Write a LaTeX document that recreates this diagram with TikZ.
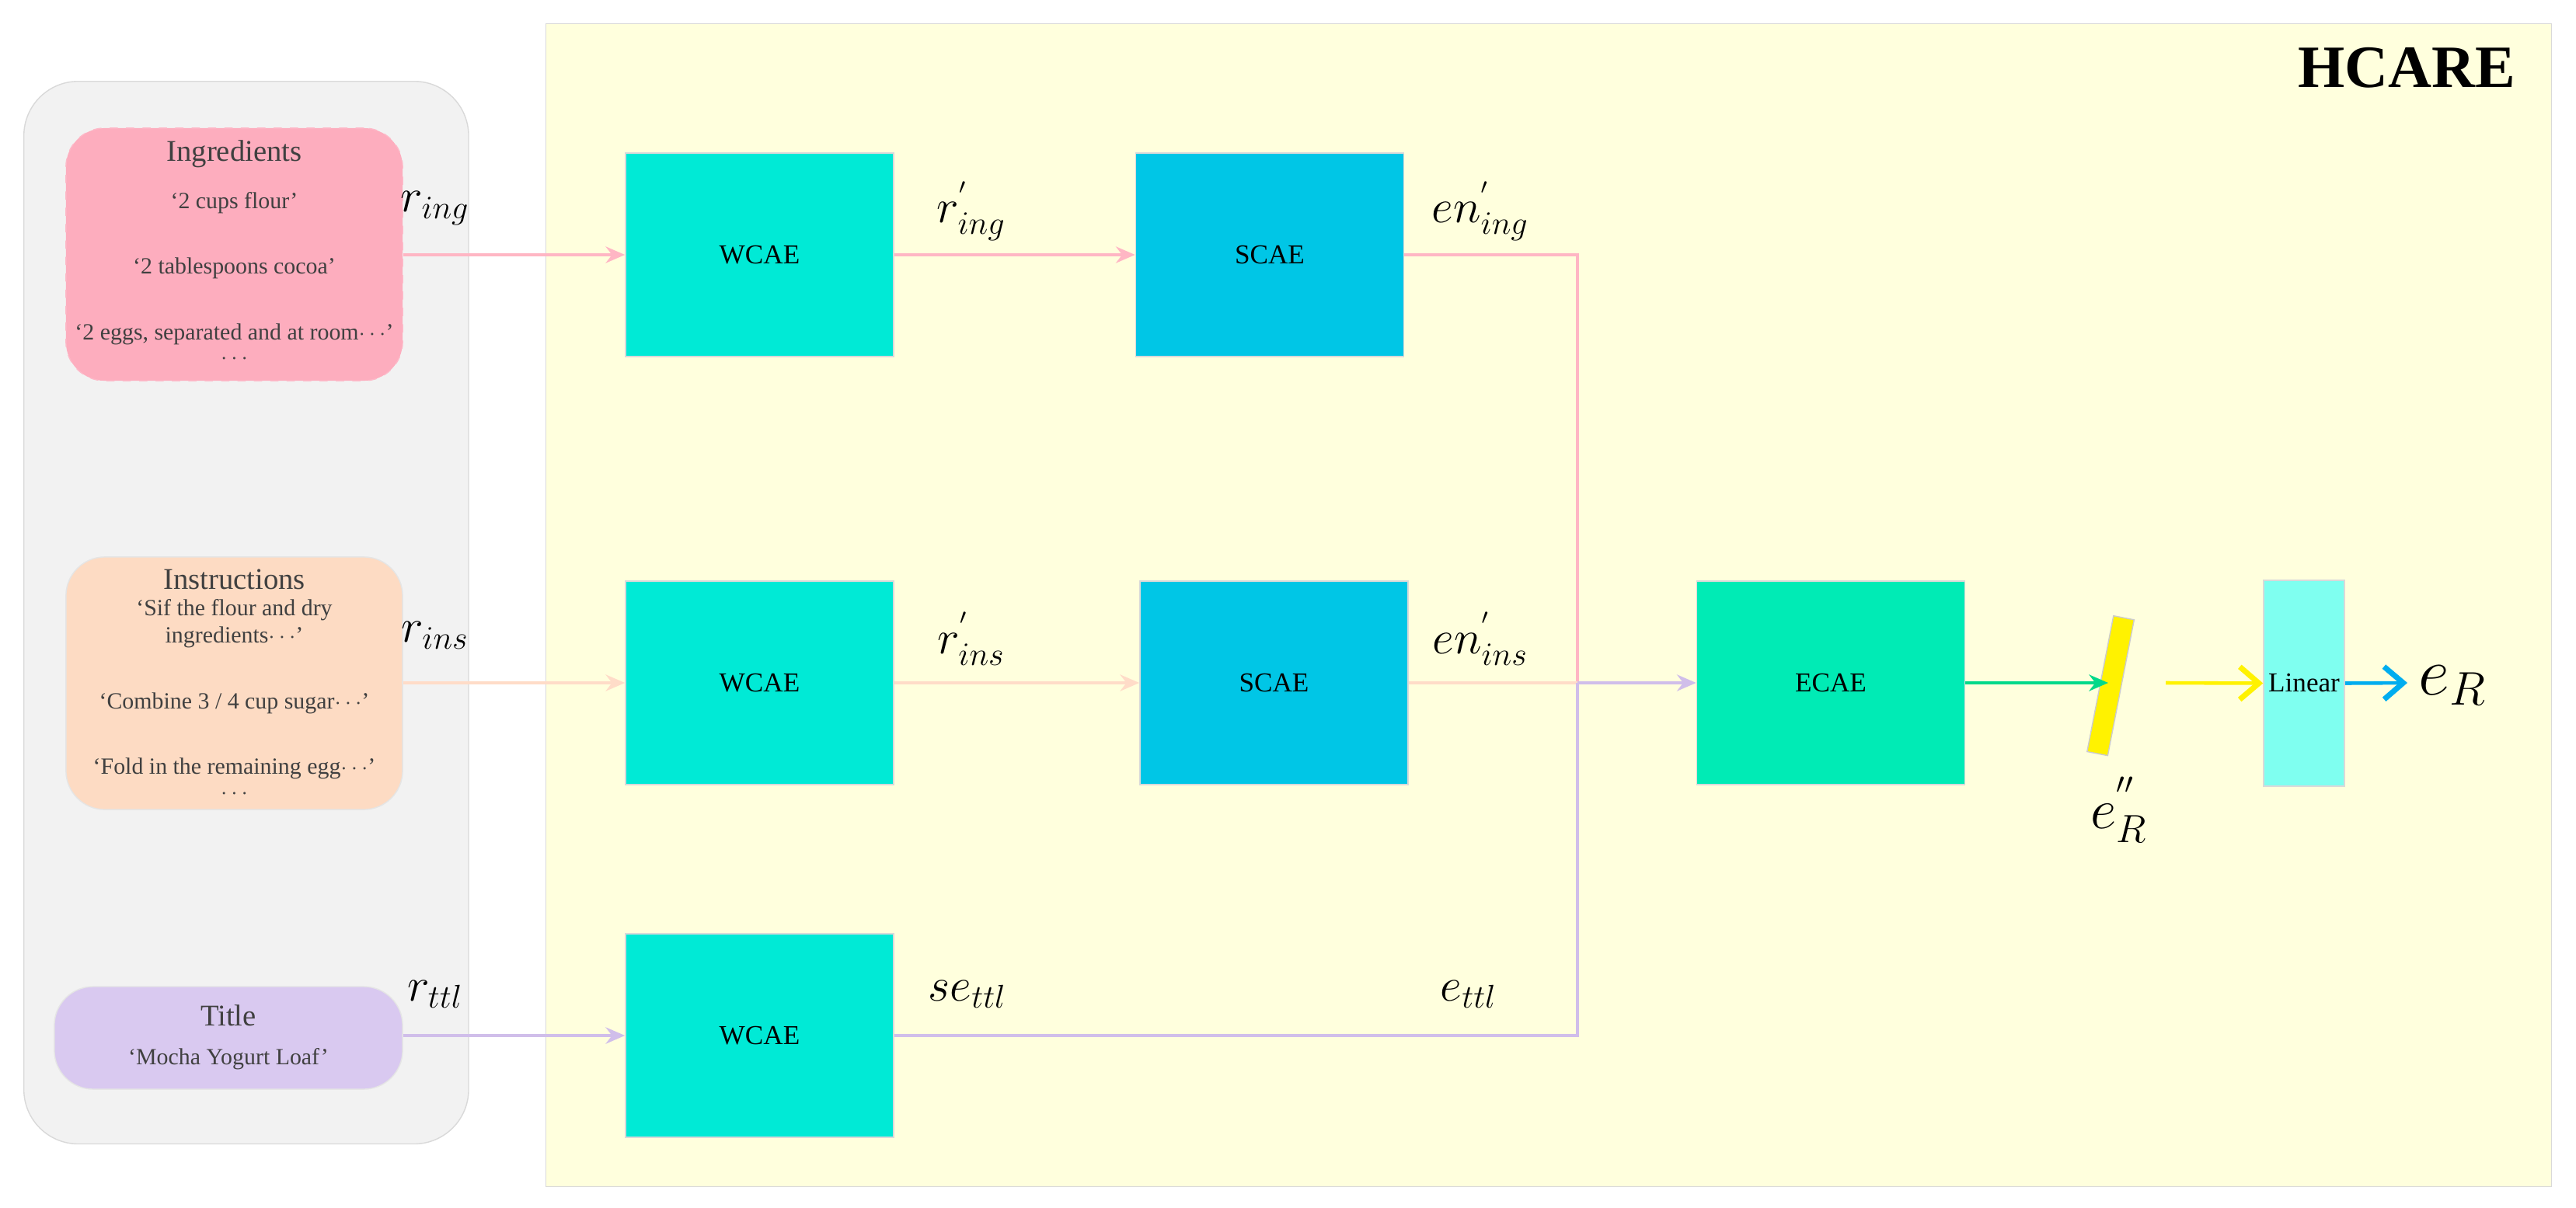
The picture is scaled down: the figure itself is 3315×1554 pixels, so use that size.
\documentclass[tikz,border=0pt]{standalone}
\usepackage{fontspec}
\setmainfont{Liberation Serif}
\usetikzlibrary{shapes.geometric,arrows.meta}
\definecolor{pinkb}{HTML}{FDADBE}
\definecolor{peachb}{HTML}{FDDBC3}
\definecolor{lavb}{HTML}{D9C9F0}
\definecolor{grayb}{HTML}{F2F2F2}
\definecolor{yelb}{HTML}{FFFFDD}
\definecolor{wcae}{HTML}{00EAD6}
\definecolor{scae}{HTML}{00C6E6}
\definecolor{ecae}{HTML}{00EBB5}
\definecolor{lin}{HTML}{7FFFF0}
\definecolor{pinkl}{HTML}{FFB6C4}
\definecolor{peachl}{HTML}{FFDCC8}
\definecolor{lavl}{HTML}{D0BEEA}
\definecolor{greenl}{HTML}{00D98A}
\definecolor{txt}{HTML}{404040}
\begin{document}
\begin{tikzpicture}[x=0.01cm,y=-0.01cm,
  blk/.style={draw=black!15,line width=0.4pt,minimum width=3.45cm,minimum height=2.62cm,font=\fontsize{10}{12}\selectfont},
  inbox/.style={rounded corners=0.5cm,align=center,text=txt,inner sep=0pt},
  con/.style={line width=1.3pt},
  arr/.style={con,-{Stealth[length=7pt,width=6pt]}},
  oarr/.style={con,-{Straight Barb[length=7pt,width=12pt,line width=2pt]}},
  ml/.style={font=\fontsize{17}{20}\selectfont}]
\useasboundingbox (0,0) rectangle (3315,1554);
\fill[white] (0,0) rectangle (3315,1554);
% backgrounds
\node[draw=black!15,fill=yelb,minimum width=25.79cm,minimum height=14.96cm,anchor=north west,inner sep=0] (bg) at (702,30) {};
\node[font=\fontsize{22}{24}\selectfont\bfseries] (hcare) at (3097,87) {HCARE};
\node[draw=black!15,fill=grayb,rounded corners=0.7cm,minimum width=5.72cm,minimum height=13.67cm,anchor=north west,inner sep=0] (panel) at (30,104) {};
% input boxes
\node[inbox,fill=pinkb,draw=pinkb!85!white,dashed,minimum width=4.33cm,minimum height=3.25cm] (ing) at (301.5,327.5) {};
\node[text=txt,font=\fontsize{11}{13}\selectfont] (ingt) at (301.5,198) {Ingredients};
\node[text=txt,font=\fontsize{8.5}{10}\selectfont,align=center] (ingi) at (301.5,358) {‘2 cups flour’\\[14pt]‘2 tablespoons cocoa’\\[14pt]‘2 eggs, separated and at room$\cdots$’\\[-1pt]$\cdots$};
\node[inbox,fill=peachb,draw=black!10,minimum width=4.33cm,minimum height=3.25cm] (ins) at (301.5,879.5) {};
\node[text=txt,font=\fontsize{11}{13}\selectfont] (inst) at (301.5,746) {Instructions};
\node[text=txt,font=\fontsize{8.5}{10}\selectfont,align=center] (insi) at (301.5,900) {‘Sif the flour and dry\\ingredients$\cdots$’\\[14pt]‘Combine 3 / 4 cup sugar$\cdots$’\\[14pt]‘Fold in the remaining egg$\cdots$’\\[-1pt]$\cdots$};
\node[inbox,fill=lavb,draw=black!10,minimum width=4.48cm,minimum height=1.32cm] (ttl) at (294,1336) {};
\node[text=txt,font=\fontsize{11}{13}\selectfont] (ttlt) at (294,1307) {Title};
\node[text=txt,font=\fontsize{8.5}{10}\selectfont] (ttli) at (294,1363) {‘Mocha Yogurt Loaf’};
% blocks
\node[blk,fill=wcae] (w1) at (977.5,328) {WCAE};
\node[blk,fill=wcae] (w2) at (977.5,879) {WCAE};
\node[blk,fill=wcae] (w3) at (977.5,1333) {WCAE};
\node[blk,fill=scae] (s1) at (1634,328) {SCAE};
\node[blk,fill=scae] (s2) at (1639.5,879) {SCAE};
\node[blk,fill=ecae] (ec) at (2356,879) {ECAE};
\node[draw=black!15,fill=lin,minimum width=1.04cm,minimum height=2.65cm,inner sep=0,font=\fontsize{10}{12}\selectfont] (lin) at (2965,879.5) {Linear};
\node[cylinder,shape aspect=0.5,draw=black!20,fill=yellow,minimum height=1.78cm,minimum width=0.27cm,inner sep=0,rotate=79] (cyl) at (2716,883) {};
% connectors
\coordinate (m) at (2030,879);
\draw[arr,pinkl] (ing.east |- w1.west) -- (w1.west);
\draw[arr,pinkl] (w1) -- (s1);
\draw[con,pinkl] (s1.east) -| (m);
\draw[arr,peachl] (ins.east |- w2.west) -- (w2.west);
\draw[arr,peachl] (w2) -- (s2);
\draw[con,peachl] (s2.east) -- (m);
\draw[arr,lavl] (ttl.east |- w3.west) -- (w3.west);
\draw[con,lavl] (w3.east) -| (m);
\draw[arr,lavl] (m) -- (ec.west);
\coordinate (cin) at (2713,879);
\coordinate (cout) at (2787,879);
\coordinate (eR) at (3165,879);
\draw[arr,greenl] (ec.east) -- (cin);
\draw[oarr,yellow] (cout) -- (lin.west);
\draw[oarr,cyan] (lin.east) -- (3098,879);
% labels
\node[ml] (lring) at (560,268) {$r_{ing}$};
\node[ml] (lring2) at (1250,272) {$r^{'}_{ing}$};
\node[ml] (lening) at (1905,272) {$en^{'}_{ing}$};
\node[ml] (lrins) at (560,818) {$r_{ins}$};
\node[ml] (lrins2) at (1250,822) {$r^{'}_{ins}$};
\node[ml] (lenins) at (1905,822) {$en^{'}_{ins}$};
\node[ml] (lrttl) at (560,1280) {$r_{ttl}$};
\node[ml] (lsettl) at (1245,1280) {$se_{ttl}$};
\node[ml] (lettl) at (1890,1280) {$e_{ttl}$};
\node[font=\fontsize{22}{24}\selectfont] (lepp) at (2727,1042) {$e^{''}_{R}$};
\node[font=\fontsize{26}{28}\selectfont,anchor=west] (leR) at (3100,882) {$e_{R}$};
\end{tikzpicture}
\end{document}
